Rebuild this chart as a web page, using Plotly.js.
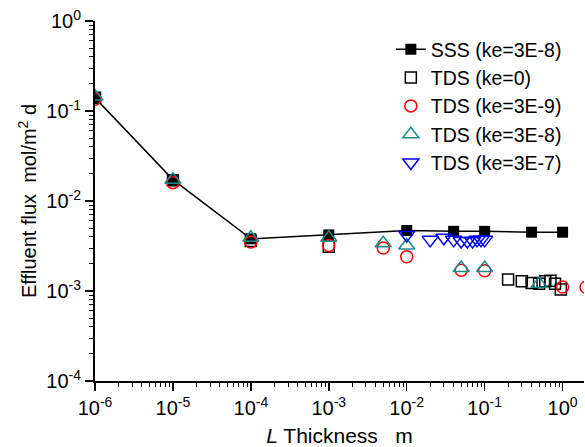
<!DOCTYPE html>
<html>
<head>
<meta charset="utf-8">
<script src="https://cdn.plot.ly/plotly-3.0.1.min.js"></script>
<style>html,body{margin:0;padding:0;background:#fff;}#chart{width:585px;height:447px;}</style>
</head>
<body>
<div id="chart"></div>
<script>
// Data
const sssX = [1e-6, 1e-5, 1e-4, 1e-3, 1e-2, 0.04, 0.1, 0.4, 1.0];
const sssY = [0.14, 0.0173, 0.0038, 0.0042, 0.0047, 0.0046, 0.0046, 0.0045, 0.0045];

const tds0X = [1e-6, 1e-5, 1e-4, 1e-3, 0.2, 0.3, 0.4, 0.5, 0.6, 0.7, 0.8, 0.95];
const tds0Y = [0.14, 0.017, 0.0036, 0.0031, 0.00134, 0.00128, 0.00123, 0.0012, 0.00128, 0.0013, 0.0012, 0.00104];

const tds9X = [1e-6, 1e-5, 1e-4, 1e-3, 5e-3, 1e-2, 0.05, 0.1, 1.0, 2.0];
const tds9Y = [0.135, 0.016, 0.0035, 0.0032, 0.0030, 0.0024, 0.0017, 0.00168, 0.00111, 0.0011];

const tds8X = [1e-6, 1e-5, 1e-4, 1e-3, 5e-3, 1e-2, 0.05, 0.1, 0.5];
const tds8Y = [0.145, 0.0172, 0.0039, 0.0039, 0.0034, 0.0032, 0.0018, 0.0018, 0.0012];

const tds7X = [0.01, 0.02, 0.03, 0.04, 0.05, 0.06, 0.07, 0.08, 0.09, 0.1];
const tds7Y = [0.0042, 0.0037, 0.0039, 0.0037, 0.0036, 0.0036, 0.0036, 0.0037, 0.0037, 0.0037];

const seriesNames = ['SSS (ke=3E-8)', 'TDS (ke=0)', 'TDS (ke=3E-9)', 'TDS (ke=3E-8)', 'TDS (ke=3E-7)'];

const xTickVals = [1e-6, 1e-5, 1e-4, 1e-3, 1e-2, 1e-1, 1];
const xTickText = ['10<sup>-6</sup>', '10<sup>-5</sup>', '10<sup>-4</sup>', '10<sup>-3</sup>', '10<sup>-2</sup>', '10<sup>-1</sup>', '10<sup>0</sup>'];
const yTickVals = [1e-4, 1e-3, 1e-2, 1e-1, 1];
const yTickText = ['10<sup>-4</sup>', '10<sup>-3</sup>', '10<sup>-2</sup>', '10<sup>-1</sup>', '10<sup>0</sup>'];

const FONT = 'Liberation Sans, Arial, Helvetica, sans-serif';
const teal = '#1a8c8c';

const traces = [
  {x: sssX, y: sssY, name: seriesNames[0], mode: 'lines+markers',
   line: {color: 'black', width: 1.5},
   marker: {symbol: 'square', size: 11, color: 'black'}},
  {x: tds0X, y: tds0Y, name: seriesNames[1], mode: 'markers',
   marker: {symbol: 'square-open', size: 11, color: 'black', line: {width: 1.5}}},
  {x: tds9X, y: tds9Y, name: seriesNames[2], mode: 'markers',
   marker: {symbol: 'circle-open', size: 12, color: 'red', line: {width: 1.5}}},
  {x: tds8X, y: tds8Y, name: seriesNames[3], mode: 'markers',
   marker: {symbol: 'triangle-up-open', size: 14, color: teal, line: {width: 1.5}}},
  {x: tds7X, y: tds7Y, name: seriesNames[4], mode: 'markers',
   marker: {symbol: 'triangle-down-open', size: 14, color: 'blue', line: {width: 1.5}}}
];

const xRange = [-6, 0.275];
const yRange = [-4, 0];

const layout = {
  width: 585, height: 447,
  margin: {l: 95, r: 1, t: 21, b: 66},
  paper_bgcolor: 'white', plot_bgcolor: 'white',
  font: {family: FONT, size: 20, color: 'black'},
  showlegend: true,
  legend: {x: 0.605, y: 0.975, xanchor: 'left', yanchor: 'top',
           bgcolor: 'rgba(0,0,0,0)', font: {size: 19.5, family: FONT},
           tracegroupgap: 0, itemwidth: 30},
  xaxis: {type: 'log', range: xRange, tickmode: 'array', tickvals: xTickVals, ticktext: xTickText,
          ticks: 'outside', ticklen: 8, tickwidth: 1.5, tickcolor: 'black',
          showline: true, linecolor: 'black', linewidth: 2, showgrid: false, zeroline: false,
          minor: {dtick: 'D1', ticks: 'outside', ticklen: 4, tickwidth: 1, tickcolor: 'black', showgrid: false},
          tickfont: {size: 20, family: FONT},
          title: {text: '<i>L</i> Thickness\u00a0\u00a0\u00a0m', font: {size: 21, family: FONT}, standoff: 10}},
  yaxis: {type: 'log', range: yRange, tickmode: 'array', tickvals: yTickVals, ticktext: yTickText,
          ticks: 'outside', ticklen: 8, tickwidth: 1.5, tickcolor: 'black',
          showline: true, linecolor: 'black', linewidth: 2, showgrid: false, zeroline: false,
          minor: {dtick: 'D1', ticks: 'outside', ticklen: 4, tickwidth: 1, tickcolor: 'black', showgrid: false},
          tickfont: {size: 20, family: FONT},
          title: {text: 'Effluent flux\u00a0\u00a0mol/m<sup>2</sup> d', font: {size: 20, family: FONT}, standoff: 4}},
  xaxis2: {type: 'log', range: xRange, overlaying: 'x', side: 'top', anchor: 'y',
           tickmode: 'array', tickvals: xTickVals, showticklabels: false,
           ticks: 'inside', ticklen: 8, tickwidth: 1.5, tickcolor: 'black',
           showline: true, linecolor: 'black', linewidth: 2, showgrid: false, zeroline: false,
           minor: {dtick: 'D1', ticks: 'inside', ticklen: 4, tickwidth: 1, tickcolor: 'black', showgrid: false}},
  yaxis2: {type: 'log', range: yRange, overlaying: 'y', side: 'right', anchor: 'x',
           tickmode: 'array', tickvals: yTickVals, showticklabels: false,
           ticks: 'inside', ticklen: 8, tickwidth: 1.5, tickcolor: 'black',
           showline: true, linecolor: 'black', linewidth: 2, showgrid: false, zeroline: false,
           minor: {dtick: 'D1', ticks: 'inside', ticklen: 4, tickwidth: 1, tickcolor: 'black', showgrid: false}}
};

Plotly.newPlot('chart', traces, layout, {displayModeBar: false, staticPlot: true});
</script>
</body>
</html>
